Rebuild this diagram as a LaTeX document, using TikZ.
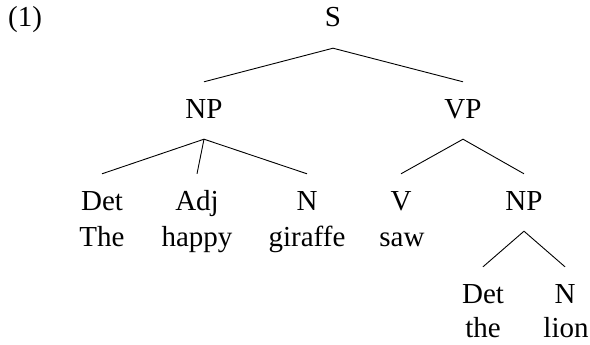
\documentclass[tikz,border=0pt]{standalone}
\usepackage{fontspec}
\setmainfont{Liberation Serif}
\begin{document}
\begin{tikzpicture}[x=1pt,y=-1pt,
  lab/.style={inner xsep=0pt, inner ysep=17pt, text height=19pt, text depth=4pt, anchor=base, font=\fontsize{29}{35}\selectfont},
  word/.style={inner sep=0pt, anchor=base, font=\fontsize{29}{35}\selectfont},
  edge/.style={line width=0.9pt}]
\useasboundingbox (0,0) rectangle (590,345);
\node[word, anchor=base west] (ex) at (8,27) {(1)};
\node[lab] (S) at (333,27) {S};
\node[lab] (NP) at (204,118) {NP};
\node[lab] (VP) at (463,118) {VP};
\node[lab] (Det) at (102,210) {Det};
\node[lab] (Adj) at (197,210) {Adj};
\node[lab] (N) at (307,210) {N};
\node[lab] (V) at (401,210) {V};
\node[lab] (NPb) at (524,210) {NP};
\node[lab] (Detb) at (483,303) {Det};
\node[lab] (Nb) at (565,303) {N};
\node[word] (w1) at (102,246) {The};
\node[word] (w2) at (197,246) {happy};
\node[word] (w3) at (307,246) {giraffe};
\node[word] (w4) at (402,246) {saw};
\node[word] (w5) at (483,337) {the};
\node[word] (w6) at (566,337) {lion};
\draw[edge] (NP.north) -- (S.south) -- (VP.north);
\draw[edge] (Det.north) -- (NP.south) -- (N.north);
\draw[edge] (NP.south) -- (Adj.north);
\draw[edge] (V.north) -- (VP.south) -- (NPb.north);
\draw[edge] (Detb.north) -- (NPb.south) -- (Nb.north);
\end{tikzpicture}
\end{document}
